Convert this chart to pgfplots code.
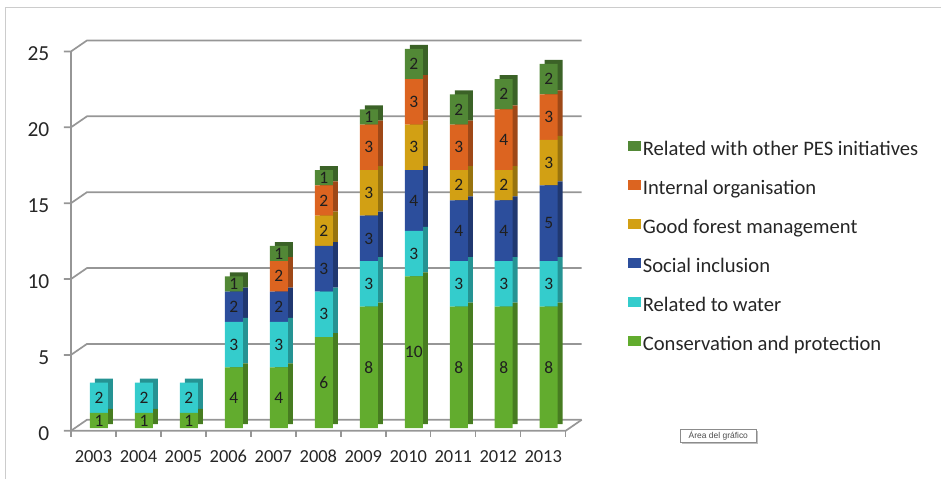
\documentclass[border=0pt]{standalone}
\usepackage{pgfplots}
\pgfplotsset{compat=1.18}
\usepackage{pgfplotstable}
\usepackage{fontspec}
\setmainfont{Carlito}
\newfontfamily\tipfont{Liberation Sans}
\definecolor{cCons}{RGB}{98,172,46}
\definecolor{cWater}{RGB}{52,204,204}
\definecolor{cSocial}{RGB}{44,78,156}
\definecolor{cForest}{RGB}{210,160,20}
\definecolor{cInternal}{RGB}{220,100,32}
\definecolor{cPES}{RGB}{82,136,54}
\definecolor{gridc}{RGB}{150,150,150}

\pgfplotstableread{
x cons water social forest internal pes
0 1 2 0 0 0 0
1 1 2 0 0 0 0
2 1 2 0 0 0 0
3 4 3 2 0 0 1
4 4 3 2 0 2 1
5 6 3 3 2 2 1
6 8 3 3 3 3 1
7 10 3 4 3 3 2
8 8 3 4 2 3 2
9 8 3 4 2 4 2
10 8 3 5 3 3 2
}\datatable

\pgfplotsset{
  base/.style={
    scale only axis, width=495bp, height=379.5bp,
    xmin=-0.5, xmax=10.5, ymin=0, ymax=25,
    anchor=south west,
  },
  bars/.style={
    base, hide axis, ybar stacked, bar width=18bp, bar shift=5.5bp,
  },
}
\begin{document}
\begin{tikzpicture}[x=1bp,y=1bp]
\path (0,0) rectangle (941,479);
\draw[black!20, line width=1bp] (6,0) -- (6,471) -- (941,471);

% grid axis with tick labels
\begin{axis}[base, at={(71bp,48bp)}, clip=false,
  /pgf/number format/assume math mode=true,
  axis line style={draw=none}, major tick style={draw=none},
  xtick={0,...,10},
  xticklabels={2003,2004,2005,2006,2007,2008,2009,2010,2011,2012,2013},
  ytick={0,5,...,25},
  xticklabel style={anchor=base, inner sep=0pt, yshift=-31.5bp, font=\fontsize{18.5}{20}\selectfont, text=black!85},
  yticklabel style={anchor=east, inner sep=0pt, xshift=-21.5bp, yshift=-2.5bp, font=\fontsize{21.5}{24}\selectfont, text=black!85},
]
\pgfplotsinvokeforeach{0,5,10,15,20,25}{
  \draw[gridc, line width=1.7bp] ([xshift=-7bp]axis cs:-0.5,#1) -- (axis cs:-0.5,#1) -- ([xshift=16bp,yshift=11bp]axis cs:-0.5,#1) -- ([xshift=16bp,yshift=11bp]axis cs:10.5,#1);
}
\draw[gridc, line width=1.7bp] (axis cs:-0.5,0) -- (axis cs:-0.5,25);
\draw[gridc, line width=1.7bp] (axis cs:-0.5,0) -- (axis cs:10.5,0) -- ([xshift=16bp,yshift=11bp]axis cs:10.5,0);
\pgfplotsinvokeforeach{-0.5,0.5,1.5,2.5,3.5,4.5,5.5,6.5,7.5,8.5,9.5,10.5}{
  \draw[gridc, line width=1.4bp] (axis cs:#1,0) -- ([yshift=-6bp]axis cs:#1,0);
}
\end{axis}

% shadow (3D side and top faces)
\begin{axis}[bars, at={(76bp,54.7bp)}]
\addplot[fill=cCons!72!black, draw=none] table[x=x,y=cons]{\datatable};
\addplot[fill=cWater!72!black, draw=none] table[x=x,y=water]{\datatable};
\addplot[fill=cSocial!72!black, draw=none] table[x=x,y=social]{\datatable};
\addplot[fill=cForest!72!black, draw=none] table[x=x,y=forest]{\datatable};
\addplot[fill=cInternal!72!black, draw=none] table[x=x,y=internal]{\datatable};
\addplot[fill=cPES!72!black, draw=none] table[x=x,y=pes]{\datatable};
\end{axis}

% front faces and legend
\begin{axis}[bars, at={(71bp,50.7bp)},
  legend style={at={(1.1252,0.472)}, anchor=west, draw=none, fill=none,
    font=\fontsize{20.7}{22}\selectfont, row sep=18.5bp, inner sep=0pt,
    nodes={inner sep=2bp, text height=12bp, text depth=4bp, text=black!85}},
  legend cell align=left, reverse legend,
  legend image code/.code={\fill[#1] (0bp,1bp) rectangle (13bp,10.5bp);},
]
\addplot[fill=cCons, draw=none] table[x=x,y=cons]{\datatable};
\addlegendentry{Conservation and protection}
\addplot[fill=cWater, draw=none] table[x=x,y=water]{\datatable};
\addlegendentry{Related to water}
\addplot[fill=cSocial, draw=none] table[x=x,y=social]{\datatable};
\addlegendentry{Social inclusion}
\addplot[fill=cForest, draw=none] table[x=x,y=forest]{\datatable};
\addlegendentry{Good forest management}
\addplot[fill=cInternal, draw=none] table[x=x,y=internal]{\datatable};
\addlegendentry{Internal organisation}
\addplot[fill=cPES, draw=none] table[x=x,y=pes]{\datatable};
\addlegendentry{Related with other PES initiatives}
\end{axis}

% data labels
\begin{axis}[base, hide axis, at={(76.5bp,50.7bp)}, clip=false]
\addplot[only marks, mark=*, mark size=0.01pt, mark options={draw=none, fill=none},
  point meta=explicit symbolic, nodes near coords,
  every node near coord/.append style={anchor=center, inner sep=0pt, font=\fontsize{17.5}{19}\selectfont, text=black!88}]
coordinates {
(0,0.5)[1] (1,0.5)[1] (2,0.5)[1] (3,2)[4] (4,2)[4] (5,3)[6] (6,4)[8] (7,5)[10] (8,4)[8] (9,4)[8] (10,4)[8]
(0,2)[2] (1,2)[2] (2,2)[2] (3,5.5)[3] (4,5.5)[3] (5,7.5)[3] (6,9.5)[3] (7,11.5)[3] (8,9.5)[3] (9,9.5)[3] (10,9.5)[3]
(3,8)[2] (4,8)[2] (5,10.5)[3] (6,12.5)[3] (7,15)[4] (8,13)[4] (9,13)[4] (10,13.5)[5]
(5,13)[2] (6,15.5)[3] (7,18.5)[3] (8,16)[2] (9,16)[2] (10,17.5)[3]
(4,10)[2] (5,15)[2] (6,18.5)[3] (7,21.5)[3] (8,18.5)[3] (9,19)[4] (10,20.5)[3]
(3,9.5)[1] (4,11.5)[1] (5,16.5)[1] (6,20.5)[1] (7,24)[2] (8,21)[2] (9,22)[2] (10,23)[2]
};
\end{axis}

% chart-area tooltip
\fill[black!25] (682.7,34.7) rectangle (758.7,47.7);
\node[draw=black!45, fill=white, line width=0.6bp, inner sep=0pt, minimum width=76bp, minimum height=13bp, font=\tipfont\fontsize{8.5}{9}\selectfont, text=black!70] at (718.7,42.7) {Área del gráfico};
\end{tikzpicture}
\end{document}
